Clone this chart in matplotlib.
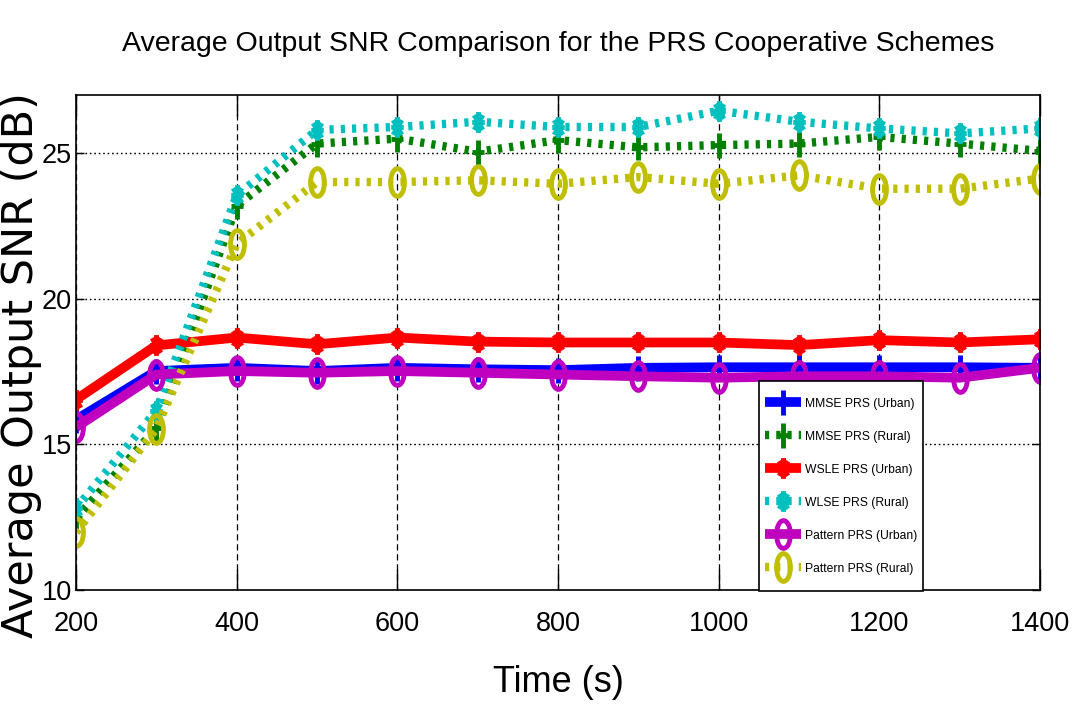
import numpy as np
import matplotlib
matplotlib.use("Agg")
import matplotlib.pyplot as plt
from matplotlib.path import Path
from matplotlib.lines import Line2D
from matplotlib.legend_handler import HandlerLine2D

# ---- data ----
time_s = [200, 300, 400, 500, 600, 700, 800, 900, 1000, 1100, 1200, 1300, 1400]

mmse_urban = [15.85, 17.52, 17.63, 17.52, 17.63, 17.58, 17.55, 17.63, 17.65, 17.65, 17.65, 17.65, 17.63]
mmse_rural = [12.46, 15.56, 23.20, 25.33, 25.50, 25.05, 25.45, 25.20, 25.28, 25.33, 25.56, 25.33, 25.08]
wsle_urban = [16.54, 18.40, 18.67, 18.44, 18.67, 18.53, 18.50, 18.50, 18.50, 18.41, 18.58, 18.50, 18.61]
wlse_rural = [12.80, 16.16, 23.55, 25.80, 25.90, 26.08, 25.90, 25.90, 26.46, 26.08, 25.85, 25.68, 25.85]
pattern_urban = [15.59, 17.40, 17.52, 17.46, 17.52, 17.46, 17.40, 17.34, 17.29, 17.34, 17.34, 17.29, 17.63]
pattern_rural = [11.98, 15.54, 21.89, 24.01, 24.01, 24.07, 23.95, 24.18, 23.95, 24.24, 23.78, 23.78, 24.13]

labels = ["MMSE PRS (Urban)", "MMSE PRS (Rural)", "WSLE PRS (Urban)",
          "WLSE PRS (Rural)", "Pattern PRS (Urban)", "Pattern PRS (Rural)"]
x_ticks = [200, 400, 600, 800, 1000, 1200, 1400]
y_ticks = [10, 15, 20, 25]

# ---- tall, narrow marker shapes ----
SQ = 0.5
M, L = Path.MOVETO, Path.LINETO
plus_mk = Path([(-SQ / 2, 0), (SQ / 2, 0), (0, -0.5), (0, 0.5)], [M, L, M, L])
ast_pts, ast_codes = [], []
for ang in (0, 45, 90, 135):
    dx, dy = 0.5 * np.cos(np.radians(ang)) * SQ * 1.2, 0.5 * np.sin(np.radians(ang))
    ast_pts += [(-dx, -dy), (dx, dy)]
    ast_codes += [M, L]
star_mk = Path(ast_pts, ast_codes)
uc = Path.unit_circle()
ell_mk = Path(uc.vertices * np.array([SQ, 1.0]), uc.codes)


class CenteredLineHandler(HandlerLine2D):
    """Legend line handler that lines the sample up with the text's middle."""

    def create_artists(self, legend, orig_handle, xdescent, ydescent, width,
                       height, fontsize, trans):
        artists = super().create_artists(legend, orig_handle, xdescent, ydescent,
                                         width, height, fontsize, trans)
        for a in artists:
            a.set_ydata(np.asarray(a.get_ydata()) - 0.45 * fontsize)
        return artists


plt.rcParams["font.family"] = ["Liberation Sans", "DejaVu Sans"]

fig = plt.figure(figsize=(10.72, 7.13), dpi=100)
ax = fig.add_axes([0.0709, 0.1725, 0.8993, 0.6943])

dot = (0, (0.5, 0.85))
series = [
    (mmse_urban, (0, 0, 1), "-", plus_mk, 18, "full"),
    (mmse_rural, (0, 0.5, 0), dot, plus_mk, 18, "full"),
    (wsle_urban, (1, 0, 0), "-", star_mk, 15, "full"),
    (wlse_rural, (0, 0.75, 0.75), dot, star_mk, 15, "full"),
    (pattern_urban, (0.75, 0, 0.75), "-", ell_mk, 20, "none"),
    (pattern_rural, (0.75, 0.75, 0), dot, ell_mk, 20, "none"),
]
for (vals, col, ls, mk, ms, fill), lab in zip(series, labels):
    lw = 7 if ls == "-" else 6
    ax.plot(time_s, vals, color=col, linestyle=ls, linewidth=lw,
            marker=mk, markersize=ms, markeredgewidth=3.5,
            markerfacecolor=(col if fill == "full" else "none"),
            markeredgecolor=col, label=lab, solid_capstyle="butt",
            dash_capstyle="butt")

ax.set_xlim(200, 1400)
ax.set_ylim(10, 27)
ax.set_xticks(x_ticks)
ax.set_yticks(y_ticks)

ax.xaxis.grid(True, color="black", linestyle=(0, (5, 3)), linewidth=0.9)
ax.yaxis.grid(True, color="black", linestyle=(0, (1.2, 2)), linewidth=1.0)
ax.set_axisbelow(True)

for sp in ax.spines.values():
    sp.set_linewidth(1.2)
    sp.set_color("black")

ax.tick_params(axis="both", which="major", direction="in", top=True, right=True,
               colors="black", labelsize=19.5, width=1.0)
ax.tick_params(axis="x", length=15, pad=15)
ax.tick_params(axis="y", length=6, pad=3)

ax.set_title("Average Output SNR Comparison for the PRS Cooperative Schemes",
             fontsize=20.5, pad=32, color="black")
ax.set_xlabel("Time (s)", fontsize=26, labelpad=20, color="black")
ax.set_ylabel("Average Output SNR (dB)", fontsize=31,
              family=["DejaVu Sans"], color="black", va="baseline")
ax.yaxis.set_label_coords(-0.0446, 0.4545)

leg = ax.legend(loc="lower right", bbox_to_anchor=(0.879, -0.002), borderaxespad=0,
                fontsize=8.7, handlelength=3.0, handleheight=3.83, labelspacing=0.0,
                handletextpad=0.35, borderpad=0.5, fancybox=False, framealpha=1,
                edgecolor="black", handler_map={Line2D: CenteredLineHandler()})
leg.get_frame().set_linewidth(1.2)

fig.savefig("out.png", dpi=100, facecolor="white")
